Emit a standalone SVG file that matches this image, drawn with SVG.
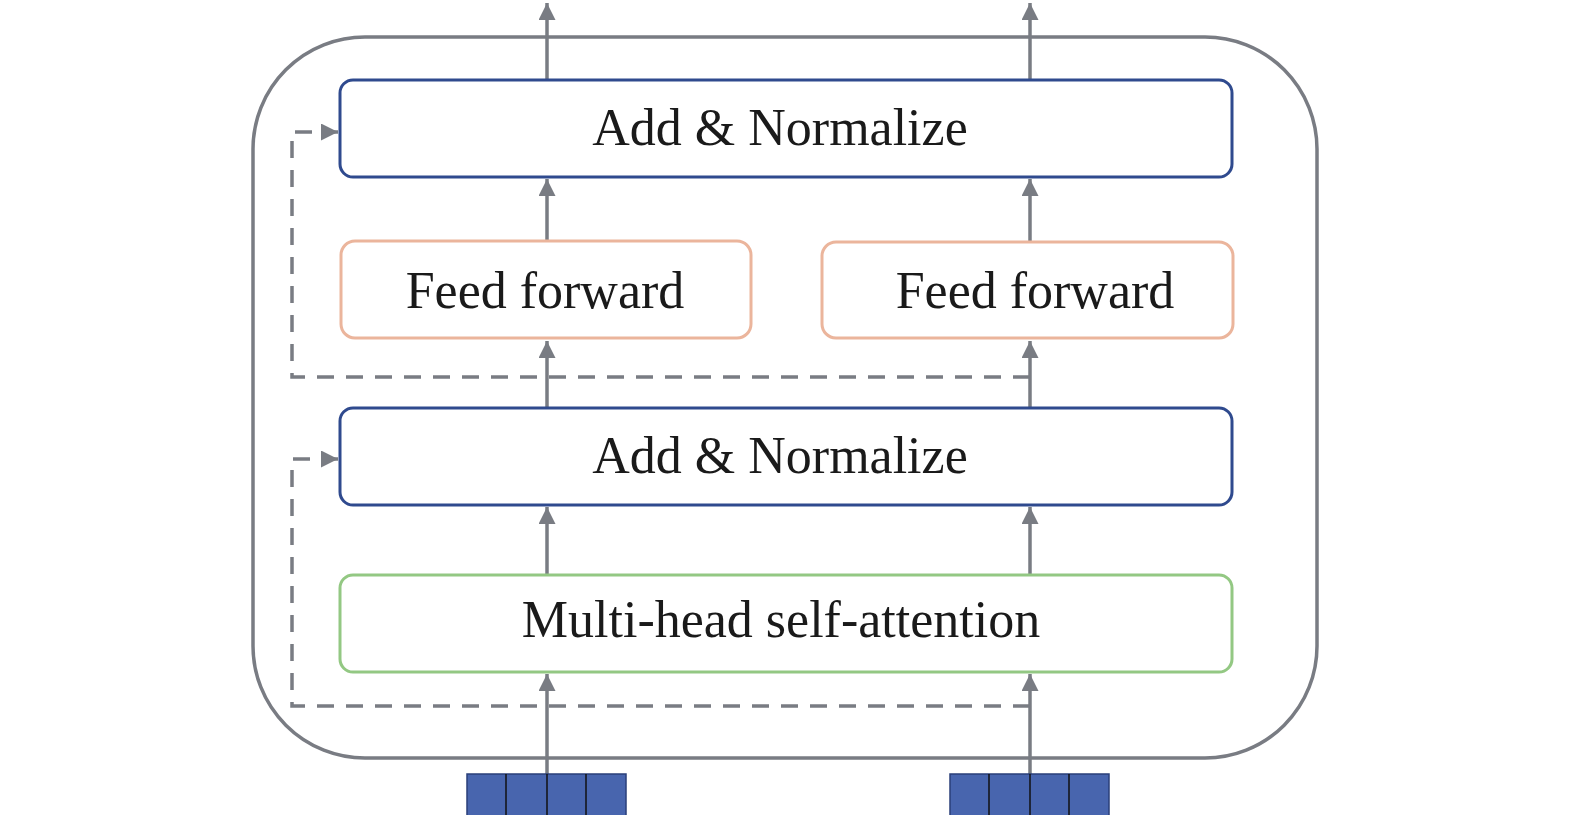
<svg xmlns="http://www.w3.org/2000/svg" width="1575" height="815" viewBox="0 0 1575 815">
<style>
.t{font-family:"Liberation Serif","Times New Roman",serif;font-size:52px;fill:#1a1a1a;text-anchor:middle}
.an{fill:#fff;stroke:#2f4a8e;stroke-width:3}
.ff{fill:#fff;stroke:#ebb59c;stroke-width:3}
.mh{fill:#fff;stroke:#93c883;stroke-width:3}
.ln{stroke:#797c83;stroke-width:3.5;fill:none}
.ds{stroke:#797c83;stroke-width:3.5;fill:none;stroke-dasharray:17 12}
.tk{fill:#4865ae;stroke:#2a3f7a;stroke-width:1.5}
.dv{stroke:#111;stroke-width:1.5}
</style>
<defs>
<marker id="ah" viewBox="0 0 10 10" refX="10" refY="5" markerWidth="17" markerHeight="17" markerUnits="userSpaceOnUse" orient="auto">
<path d="M0,0 L10,5 L0,10 z" fill="#797c83"/>
</marker>
</defs>
<g id="outer">
<rect x="253" y="37" width="1064" height="721" rx="112" ry="112" fill="none" stroke="#797c83" stroke-width="3.5"/>
</g>
<g id="connectors">
<line class="ln" x1="547" y1="80" x2="547" y2="3" marker-end="url(#ah)"/>
<line class="ln" x1="1030" y1="80" x2="1030" y2="3" marker-end="url(#ah)"/>
<line class="ln" x1="547" y1="241" x2="547" y2="179" marker-end="url(#ah)"/>
<line class="ln" x1="1030" y1="241" x2="1030" y2="179" marker-end="url(#ah)"/>
<line class="ln" x1="547" y1="408" x2="547" y2="341" marker-end="url(#ah)"/>
<line class="ln" x1="1030" y1="408" x2="1030" y2="341" marker-end="url(#ah)"/>
<line class="ln" x1="547" y1="575" x2="547" y2="507" marker-end="url(#ah)"/>
<line class="ln" x1="1030" y1="575" x2="1030" y2="507" marker-end="url(#ah)"/>
<line class="ln" x1="547" y1="775" x2="547" y2="674" marker-end="url(#ah)"/>
<line class="ln" x1="1030" y1="775" x2="1030" y2="674" marker-end="url(#ah)"/>
<path class="ds" d="M1030,377 H292 V132 H338" marker-end="url(#ah)"/>
<path class="ds" d="M1030,706 H292 V459 H338" marker-end="url(#ah)"/>
</g>
<g id="add-norm-top">
<rect class="an" x="340" y="80" width="892" height="97" rx="13"/>
<text class="t" x="780" y="145">Add &amp; Normalize</text>
</g>
<g id="ff-left">
<rect class="ff" x="341" y="241" width="410" height="97" rx="14"/>
<text class="t" x="545" y="308">Feed forward</text>
</g>
<g id="ff-right">
<rect class="ff" x="822" y="242" width="411" height="96" rx="14"/>
<text class="t" x="1035" y="308">Feed forward</text>
</g>
<g id="add-norm-bottom">
<rect class="an" x="340" y="408" width="892" height="97" rx="13"/>
<text class="t" x="780" y="473">Add &amp; Normalize</text>
</g>
<g id="multi-head">
<rect class="mh" x="340" y="575" width="892" height="97" rx="13"/>
<text class="t" x="781" y="637">Multi-head self-attention</text>
</g>
<g id="tokens-left">
<rect class="tk" x="467" y="774" width="159" height="45"/>
<line class="dv" x1="506" y1="774" x2="506" y2="815"/>
<line class="dv" x1="547" y1="774" x2="547" y2="815"/>
<line class="dv" x1="586" y1="774" x2="586" y2="815"/>
</g>
<g id="tokens-right">
<rect class="tk" x="950" y="774" width="159" height="45"/>
<line class="dv" x1="989" y1="774" x2="989" y2="815"/>
<line class="dv" x1="1030" y1="774" x2="1030" y2="815"/>
<line class="dv" x1="1069" y1="774" x2="1069" y2="815"/>
</g>
</svg>
